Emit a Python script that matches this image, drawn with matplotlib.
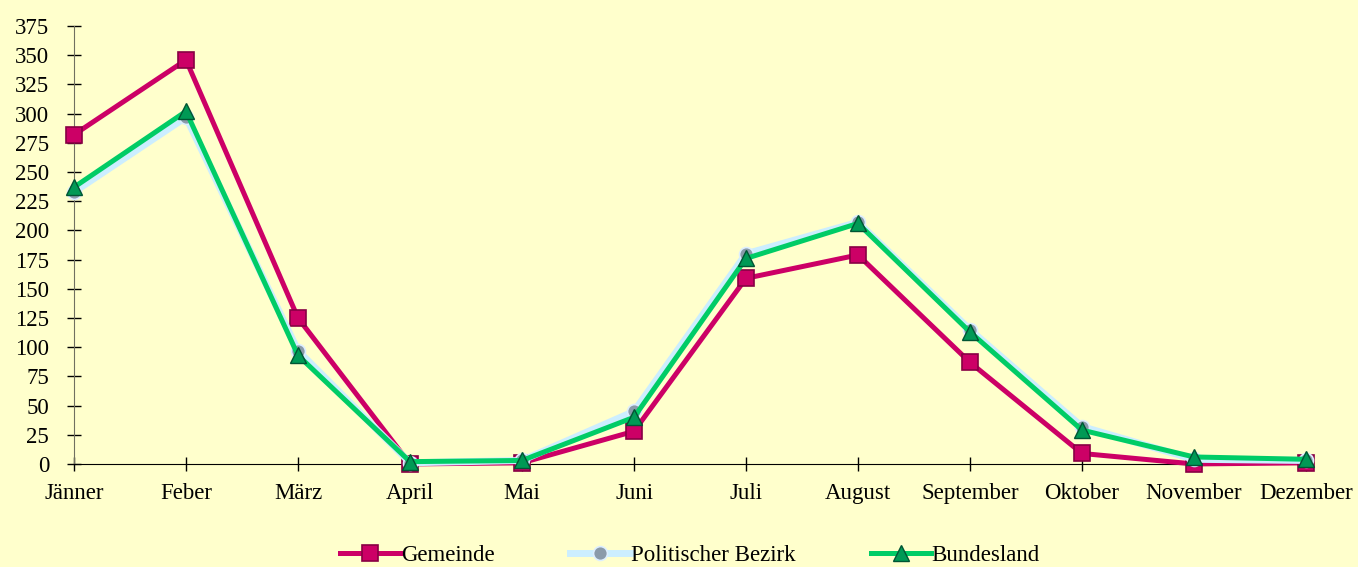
import matplotlib.pyplot as plt

# Monatswerte
monate = ['Jänner', 'Feber', 'März', 'April', 'Mai', 'Juni', 'Juli', 'August',
          'September', 'Oktober', 'November', 'Dezember']
gemeinde = [282, 346, 125, 0, 1, 28, 159, 179, 87, 9, 0, 1]
bezirk = [233, 297, 97, 1, 3, 45, 180, 207, 115, 32, 4, 3]
bundesland = [237, 302, 93, 2, 3, 40, 176, 206, 113, 29, 6, 4]
yticks = list(range(0, 376, 25))

plt.rcParams['font.family'] = ['Liberation Serif', 'DejaVu Serif']

bg = '#FFFFCC'
fig = plt.figure(figsize=(13.58, 5.67), dpi=100, facecolor=bg)
ax = fig.add_axes([0.0545, 0.1817, 0.9617 - 0.0545, 0.954 - 0.1817])
ax.set_facecolor(bg)

x = list(range(len(monate)))
ax.plot(x, gemeinde, color='#CC0066', lw=3.6, marker='s', ms=11,
        mfc='#CC0066', mec='#880044', mew=1.2, clip_on=False, zorder=3,
        label='Gemeinde')
ax.plot(x, bezirk, color='#CCEEFF', lw=5, marker='o', ms=10,
        mfc='#8A9AAA', mec='#DDEEFF', mew=1.2, clip_on=False, zorder=4,
        label='Politischer Bezirk')
ax.plot(x, bundesland, color='#00CC66', lw=3.6, marker='^', ms=12,
        mfc='#009955', mec='#005533', mew=1, clip_on=False, zorder=5,
        label='Bundesland')

ax.set_xlim(0, 11)
ax.set_ylim(0, 375)
ax.set_xticks(x)
ax.set_xticklabels(monate)
ax.set_yticks(yticks)

for s in ['top', 'right']:
    ax.spines[s].set_visible(False)
ax.spines['left'].set_color('#707060')
ax.spines['bottom'].set_color('black')
ax.tick_params(axis='both', direction='inout', length=10, width=1,
               labelsize=16.5, colors='black')
ax.tick_params(axis='y', pad=13)
ax.tick_params(axis='x', pad=9)

leg = ax.legend(loc='center', bbox_to_anchor=(0.5, -0.21), ncol=3,
                frameon=False, fontsize=16.5, handlelength=2.6,
                handletextpad=0.05, columnspacing=3.3)

fig.savefig('out.png', dpi=100, facecolor=bg)
